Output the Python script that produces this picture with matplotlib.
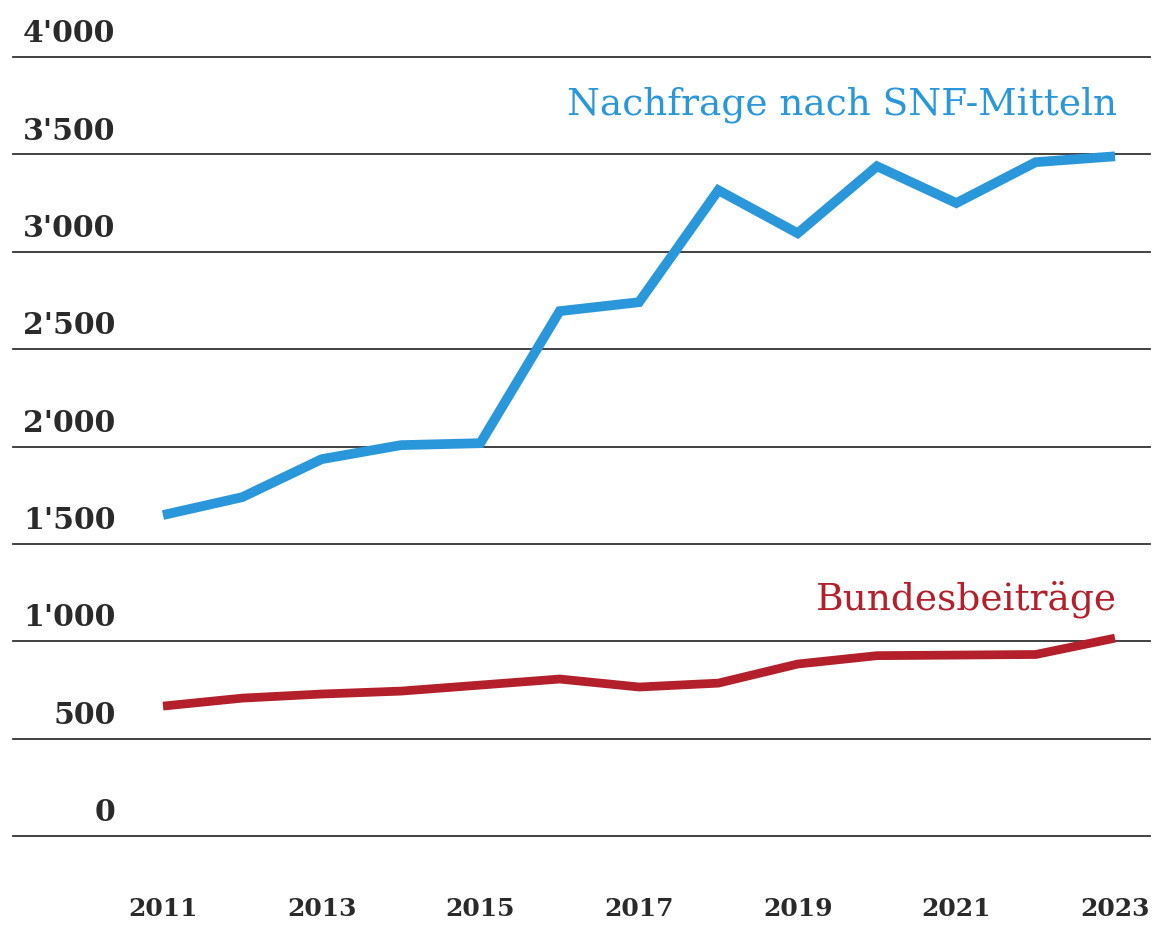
import matplotlib.pyplot as plt

years = list(range(2011, 2024))
nachfrage = [1648, 1740, 1935, 2007, 2017, 2695, 2741, 3316, 3095, 3439, 3250, 3460, 3490]
bund = [667, 708, 729, 744, 775, 806, 765, 785, 883, 926, 929, 932, 1016]
yticks = [0, 500, 1000, 1500, 2000, 2500, 3000, 3500, 4000]
ylabels = ["0", "500", "1'000", "1'500", "2'000", "2'500", "3'000", "3'500", "4'000"]
xticks = [2011, 2013, 2015, 2017, 2019, 2021, 2023]

blue = "#2a97da"
red = "#b31f2a"
dark = "#2a2a2a"
font = "DejaVu Serif"

fig = plt.figure(figsize=(11.65, 9.25), dpi=100)
ax = fig.add_axes([13/1165, 1-836/925, (1150-13)/1165, (836-57)/925])
ax.set_xlim(2011 - 150/79.33, 2023 + 35/79.33)
ax.set_ylim(0, 4000)
for s in ax.spines.values():
    s.set_visible(False)
ax.set_xticks([])
ax.set_yticks([])

for v in yticks:
    ax.axhline(v, color="#333333", lw=1.3, zorder=1, clip_on=False)

for v, lab in zip(yticks, ylabels):
    ax.text(2010.4, v + 45, lab, ha="right", va="bottom", fontsize=21.5,
            fontweight="bold", family=font, color=dark)

for x in xticks:
    ax.text(x, -375, str(x), ha="center", va="center", fontsize=18,
            fontweight="bold", family=font, color=dark)

ax.plot(years, nachfrage, color=blue, lw=7, solid_joinstyle="miter",
        solid_capstyle="butt", clip_on=False, zorder=3)
ax.plot(years, bund, color=red, lw=6.3, solid_joinstyle="miter",
        solid_capstyle="butt", clip_on=False, zorder=3)

ax.text(2023.02, 3755, "Nachfrage nach SNF-Mitteln", ha="right", va="center",
        fontsize=27, family=font, color=blue)
ax.text(2023.02, 1215, "Bundesbeiträge", ha="right", va="center",
        fontsize=27, family=font, color=red)

fig.savefig("out.png", dpi=100)
